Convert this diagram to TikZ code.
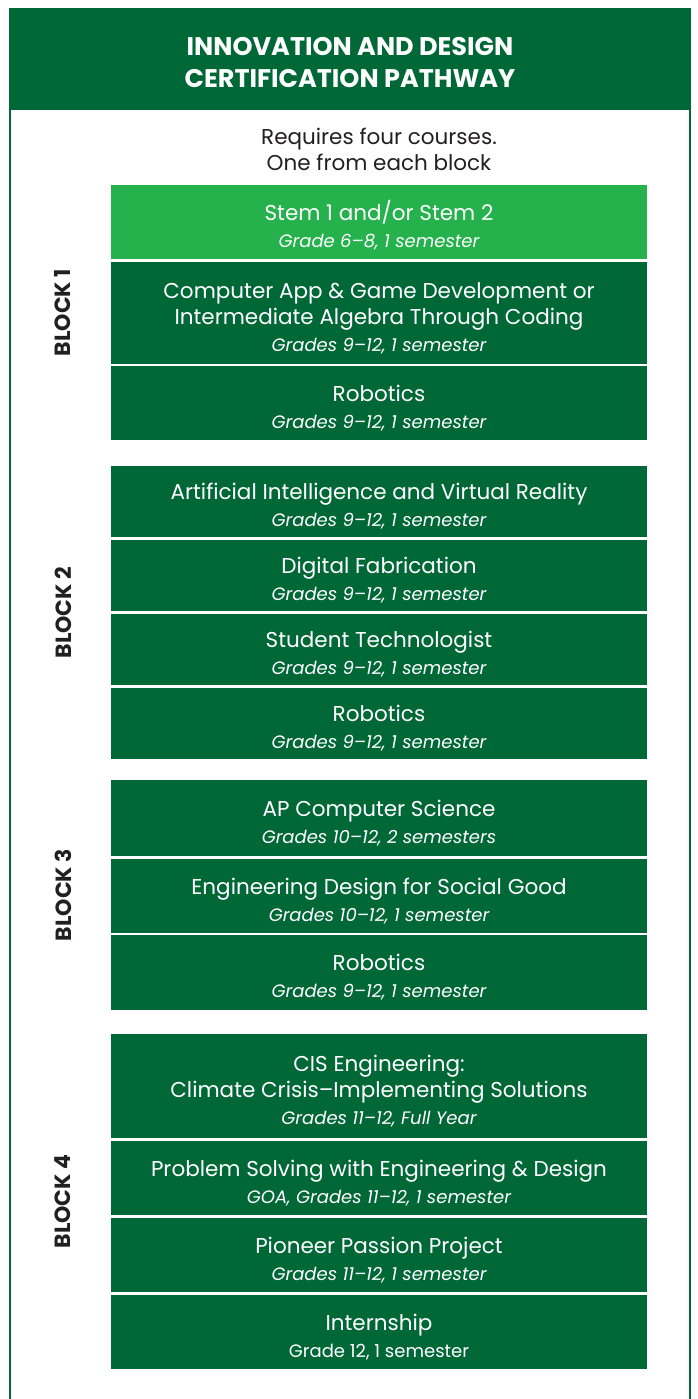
\documentclass[tikz,border=0pt]{standalone}
\usepackage{fontspec}
\setmainfont{Poppins}
\usetikzlibrary{positioning,calc}

\definecolor{pathgreen}{RGB}{0,104,55}
\definecolor{stemgreen}{RGB}{37,178,76}
\definecolor{labelgray}{RGB}{35,31,32}

\tikzset{
  course/.style={fill=pathgreen, text=white, minimum width=536pt, minimum height=#1,
    inner sep=0pt, outer sep=0pt, align=center, anchor=north, font=\fontsize{21.5}{26}\selectfont},
  blocklabel/.style={rotate=90, text=labelgray, inner sep=0pt, font=\fontsize{22}{24}\selectfont\bfseries},
}
% course title, then its grades line
\newcommand{\crs}[2]{\rule{0pt}{26pt}#1\\[1pt]{\fontsize{18}{28}\selectfont #2}}

\begin{document}
\begin{tikzpicture}[x=1pt, y=-1pt]
  \useasboundingbox (0,0) rectangle (698,1399);
  % frame and header
  \fill[pathgreen] (9,8) rectangle (691,110);
  \draw[pathgreen, line width=2.5pt] (10,1402) -- (10,9) -- (690,9) -- (690,1402);
  \node[text=white, align=center, font=\fontsize{25.5}{32}\selectfont\bfseries] (title) at (350,63)
    {INNOVATION AND DESIGN\\CERTIFICATION PATHWAY};
  \node[text=labelgray, align=center, font=\fontsize{21.5}{26}\selectfont] (intro) at (379,149)
    {Requires four courses.\\One from each block};

  % block 1
  \node[course=74pt, fill=stemgreen] (stem) at (379,185)
    {\crs{Stem 1 and/or Stem 2}{\itshape Grade 6–8, 1 semester}};
  \node[course=102pt, below=3pt of stem] (appdev)
    {\crs{Computer App \& Game Development or\\Intermediate Algebra Through Coding}{\itshape Grades 9–12, 1 semester}};
  \node[course=74pt, below=2pt of appdev] (robA)
    {\crs{Robotics}{\itshape Grades 9–12, 1 semester}};

  % block 2
  \node[course=71pt, below=26pt of robA] (ai)
    {\crs{Artificial Intelligence and Virtual Reality}{\itshape Grades 9–12, 1 semester}};
  \node[course=71pt, below=3pt of ai] (fab)
    {\crs{Digital Fabrication}{\itshape Grades 9–12, 1 semester}};
  \node[course=71pt, below=3pt of fab] (techno)
    {\crs{Student Technologist}{\itshape Grades 9–12, 1 semester}};
  \node[course=71pt, below=3pt of techno] (robB)
    {\crs{Robotics}{\itshape Grades 9–12, 1 semester}};

  % block 3
  \node[course=76pt, below=21pt of robB] (apcs)
    {\crs{AP Computer Science}{\itshape Grades 10–12, 2 semesters}};
  \node[course=74pt, below=3pt of apcs] (social)
    {\crs{Engineering Design for Social Good}{\itshape Grades 10–12, 1 semester}};
  \node[course=75pt, below=2pt of social] (robC)
    {\crs{Robotics}{\itshape Grades 9–12, 1 semester}};

  % block 4
  \node[course=104pt, below=24pt of robC] (cis)
    {\crs{CIS Engineering:\\Climate Crisis–Implementing Solutions}{\itshape Grades 11–12, Full Year}};
  \node[course=74pt, below=3pt of cis] (solve)
    {\crs{Problem Solving with Engineering \& Design}{\itshape GOA, Grades 11–12, 1 semester}};
  \node[course=74pt, below=3pt of solve] (passion)
    {\crs{Pioneer Passion Project}{\itshape Grades 11–12, 1 semester}};
  \node[course=74pt, below=3pt of passion] (intern)
    {\crs{Internship}{Grade 12, 1 semester}};

  % block labels
  \node[blocklabel] (blk1) at ([xshift=-48pt]$(stem.north west)!.5!(robA.south west)$) {BLOCK 1};
  \node[blocklabel] (blk2) at ([xshift=-48pt]$(ai.north west)!.5!(robB.south west)$) {BLOCK 2};
  \node[blocklabel] (blk3) at ([xshift=-48pt]$(apcs.north west)!.5!(robC.south west)$) {BLOCK 3};
  \node[blocklabel] (blk4) at ([xshift=-48pt]$(cis.north west)!.5!(intern.south west)$) {BLOCK 4};
\end{tikzpicture}
\end{document}
